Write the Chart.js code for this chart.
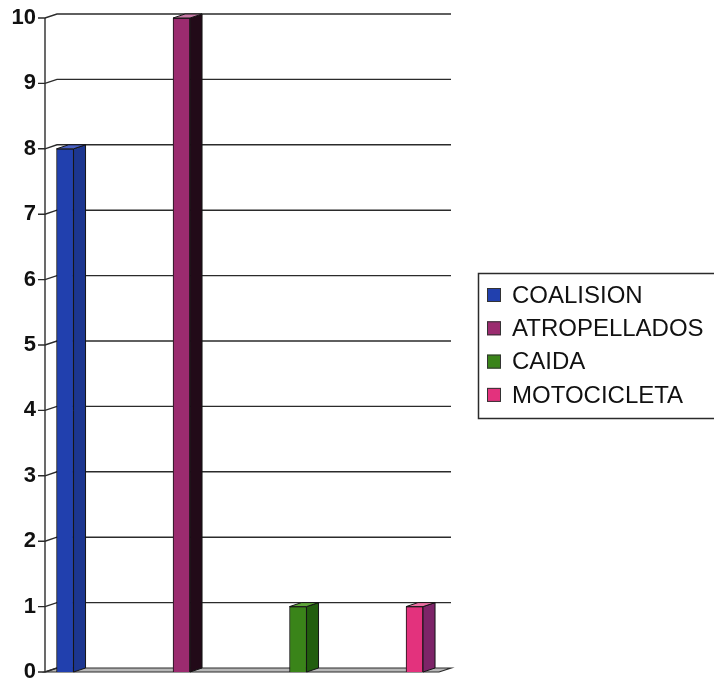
<!DOCTYPE html>
<html>
<head>
<meta charset="utf-8">
<script src="https://cdn.jsdelivr.net/npm/chart.js@4/dist/chart.umd.min.js"></script>
<style>
  html, body { margin: 0; padding: 0; background: #fff; }
  #wrap { width: 714px; height: 680px; position: relative; }
</style>
</head>
<body>
<div id="wrap"><canvas id="c" width="714" height="680"></canvas></div>
<script>
// Series (one column each) and their counts
const categories = ['COALISION', 'ATROPELLADOS', 'CAIDA', 'MOTOCICLETA'];
const counts = [8, 10, 1, 1];
const yTickValues = [0, 1, 2, 3, 4, 5, 6, 7, 8, 9, 10];

// Face colours of the 3D columns
const frontColors = ['#2140ae', '#9b2b6f', '#3a8419', '#e3327d'];
const sideColors  = ['#1c3690', '#220a18', '#225e0e', '#7d2468'];
const topColors   = ['#4a62c6', '#c77aa6', '#5fa63a', '#ec6fa2'];

// Depth of the 3D projection (back plane offset)
const DEPTH_X = 12;
const DEPTH_Y = -4;
const LINE = '#2b2b2b';

const depthPlugin = {
  id: 'depth3d',
  beforeDatasetsDraw(chart) {
    const ctx = chart.ctx;
    const y = chart.scales.y;
    const area = chart.chartArea;
    const left = area.left, right = area.right;
    const y0 = y.getPixelForValue(0);
    ctx.save();
    // floor
    ctx.beginPath();
    ctx.moveTo(left, y0);
    ctx.lineTo(right, y0);
    ctx.lineTo(right + DEPTH_X, y0 + DEPTH_Y);
    ctx.lineTo(left + DEPTH_X, y0 + DEPTH_Y);
    ctx.closePath();
    ctx.fillStyle = '#b8b8b8';
    ctx.fill();
    ctx.lineWidth = 1.2;
    ctx.strokeStyle = LINE;
    ctx.stroke();
    // back-wall gridlines and tick connectors
    yTickValues.forEach(v => {
      const py = y.getPixelForValue(v);
      ctx.beginPath();
      ctx.moveTo(left - 7, py);
      ctx.lineTo(left, py);
      ctx.lineTo(left + DEPTH_X, py + DEPTH_Y);
      if (v > 0) ctx.lineTo(right + DEPTH_X, py + DEPTH_Y);
      ctx.lineWidth = 1.4;
      ctx.strokeStyle = LINE;
      ctx.stroke();
    });
    // front value axis
    ctx.beginPath();
    ctx.moveTo(left, y.getPixelForValue(10));
    ctx.lineTo(left, y0);
    ctx.lineWidth = 1.4;
    ctx.stroke();
    ctx.restore();
  },
  afterDatasetsDraw(chart) {
    const ctx = chart.ctx;
    ctx.save();
    ctx.lineWidth = 1;
    ctx.strokeStyle = '#151515';
    chart.data.datasets.forEach((ds, i) => {
      const meta = chart.getDatasetMeta(i);
      meta.data.forEach(bar => {
        const p = bar.getProps(['x', 'y', 'base', 'width'], true);
        const l = p.x - p.width / 2, r = p.x + p.width / 2;
        // side face
        ctx.beginPath();
        ctx.moveTo(r, p.y);
        ctx.lineTo(r + DEPTH_X, p.y + DEPTH_Y);
        ctx.lineTo(r + DEPTH_X, p.base + DEPTH_Y);
        ctx.lineTo(r, p.base);
        ctx.closePath();
        ctx.fillStyle = sideColors[i];
        ctx.fill();
        ctx.stroke();
        // top face
        ctx.beginPath();
        ctx.moveTo(l, p.y);
        ctx.lineTo(l + DEPTH_X, p.y + DEPTH_Y);
        ctx.lineTo(r + DEPTH_X, p.y + DEPTH_Y);
        ctx.lineTo(r, p.y);
        ctx.closePath();
        ctx.fillStyle = topColors[i];
        ctx.fill();
        ctx.stroke();
      });
    });
    ctx.restore();
  },
  afterDraw(chart) {
    // framed legend on the right
    const ctx = chart.ctx;
    ctx.save();
    ctx.lineWidth = 1.5;
    ctx.strokeStyle = LINE;
    ctx.strokeRect(478.5, 273.5, 240, 145);
    ctx.font = '24px "Liberation Sans", Arial, sans-serif';
    ctx.textBaseline = 'middle';
    ctx.textAlign = 'left';
    chart.data.datasets.forEach((ds, i) => {
      const cy = 295 + i * 33.3;
      ctx.fillStyle = ds.backgroundColor;
      ctx.fillRect(487, cy - 7, 14, 14);
      ctx.lineWidth = 1;
      ctx.strokeStyle = '#333';
      ctx.strokeRect(487.5, cy - 6.5, 13, 13);
      ctx.fillStyle = '#111';
      ctx.fillText(ds.label, 512, cy + 1);
    });
    ctx.restore();
  }
};

const datasets = categories.map((name, i) => ({
  label: name,
  data: [{ x: i, y: counts[i] }],
  backgroundColor: frontColors[i],
  borderColor: '#151515',
  borderWidth: 1,
  barThickness: 17,
  grouped: false
}));

new Chart(document.getElementById('c'), {
  type: 'bar',
  data: { datasets },
  plugins: [depthPlugin],
  options: {
    responsive: false,
    animation: false,
    layout: { padding: { left: 0, right: 275, top: 18, bottom: 8 } },
    plugins: { legend: { display: false }, tooltip: { enabled: false } },
    scales: {
      x: { type: 'linear', offset: false, min: -0.172, max: 3.21, display: false },
      y: {
        min: 0, max: 10,
        grid: { display: false, drawTicks: false },
        border: { display: false },
        ticks: {
          stepSize: 1,
          padding: 9,
          color: '#111',
          autoSkip: false,
          font: { family: '"Liberation Sans", Arial, sans-serif', size: 22, weight: 'bold' }
        },
        afterFit(scale) {
          scale.width = 45;
          scale.paddingTop = 0;
          scale.paddingBottom = 0;
        }
      }
    }
  }
});
</script>
</body>
</html>
